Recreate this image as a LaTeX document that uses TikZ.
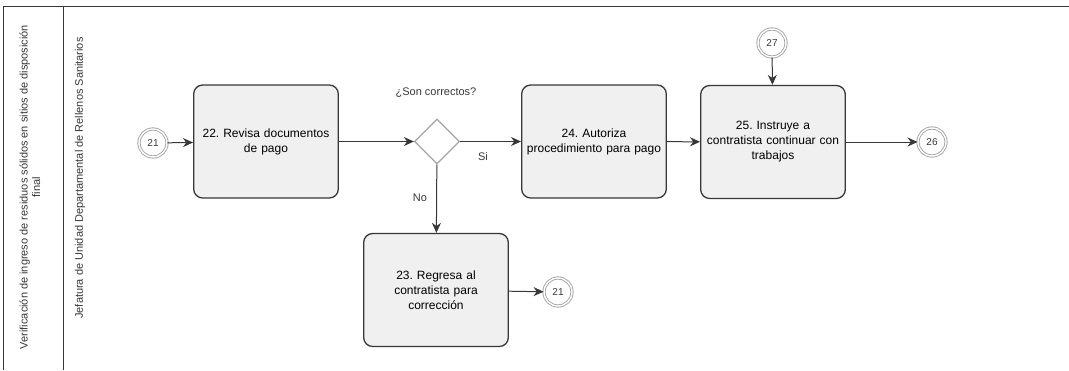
\documentclass[tikz,border=0pt]{standalone}
\usepackage{fontspec}
\setmainfont{Liberation Sans}
\usetikzlibrary{arrows.meta,shapes.geometric}
\definecolor{linea}{RGB}{55,55,55}
\definecolor{caja}{RGB}{240,240,241}
\definecolor{borde}{RGB}{165,165,165}
\frenchspacing

\begin{document}
\begin{tikzpicture}[x=1pt,y=-1pt,
    tarea/.style={draw=linea, line width=1.3pt, fill=caja, rounded corners=9pt,
      minimum width=144pt, minimum height=113pt, align=center, text width=138pt,
      font=\fontsize{12}{15}\selectfont},
    enlace/.style={circle, draw=borde, double=white, double distance=1.4pt,
      line width=0.9pt, minimum size=28pt, inner sep=0pt, text=linea,
      font=\fontsize{10}{12}\selectfont},
    decision/.style={diamond, draw=borde, line width=1.3pt, fill=white,
      minimum width=45pt, minimum height=45pt, inner sep=0pt},
    flecha/.style={draw=linea, line width=1pt, -{Stealth[length=10pt,width=9pt]}},
    rotulo/.style={text=linea, font=\fontsize{11}{13}\selectfont}]
    \useasboundingbox (0,0) rectangle (1069,370);
    % marco del pool y carril
    \draw[linea, line width=0.8pt] (3,370) -- (3,6) -- (1069,6);
    \draw[linea, line width=0.8pt] (63,6) -- (63,370);
    \node[rotate=90, align=center, text=linea, font=\fontsize{11}{12.5}\selectfont] (pool) at (30,187)
        {Verificación de ingreso de residuos sólidos en sitios de disposición\\final};
    \node[rotate=90, text=linea, font=\fontsize{11}{13}\selectfont] (carril) at (80,178)
        {Jefatura de Unidad Departamental de Rellenos Sanitarios};
    % tareas
    \node[tarea] (t22) at (266,141.5) {22. Revisa documentos\\de pago};
    \node[tarea] (t24) at (594,141.5) {24. Autoriza\\procedimiento para pago};
    \node[tarea] (t25) at (773,142) {25. Instruye a\\contratista continuar con\\trabajos};
    \node[tarea] (t23) at (436,290) {23. Regresa al\\contratista para\\corrección};
    \node[decision] (d1) at (437,141.5) {};
    % conectores de pagina
    \node[enlace] (c21) at (153,143) {21};
    \node[enlace] (c27) at (772,43) {27};
    \node[enlace] (c26) at (932,142) {26};
    \node[enlace] (c21b) at (558,292) {21};
    % etiquetas
    \node[rotulo] (preg) at (436,93) {¿Son correctos?};
    \node[rotulo] (si) at (483,157) {Si};
    \node[rotulo] (no) at (420,198) {No};
    % flujo
    \draw[flecha] (c21) -- (t22);
    \draw[flecha] (t22) -- (d1);
    \draw[flecha] (d1) -- (t24);
    \draw[flecha] (d1) -- (t23);
    \draw[flecha] (t24) -- (t25);
    \draw[flecha] (c27) -- (t25);
    \draw[flecha] (t25) -- (c26);
    \draw[flecha] (t23) -- (c21b);
\end{tikzpicture}
\end{document}
